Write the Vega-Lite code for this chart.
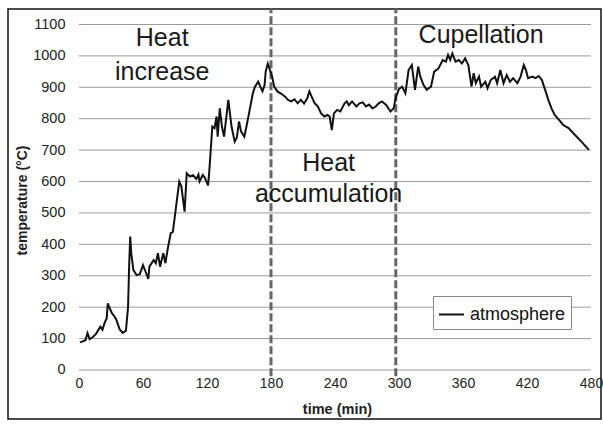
{
  "$schema": "https://vega.github.io/schema/vega-lite/v6.json",
  "width": 593,
  "height": 410,
  "autosize": {"type": "none"},
  "padding": {"left": 8, "top": 9, "right": 2, "bottom": 6},
  "background": "white",
  "config": {
    "view": {"stroke": "#111", "strokeWidth": 1.5},
    "font": "Liberation Sans",
    "axis": {"grid": false, "domain": false, "ticks": false, "labelOverlap": false},
    "axisX": {
      "offset": -49, "format": "d",
      "labelFontSize": 14, "labelColor": "#222", "labelPadding": 6, "labelFont": "Liberation Sans",
      "titleFontSize": 14.5, "titleFontWeight": "bold", "titleColor": "#222",
      "titleFont": "Liberation Sans", "titleX": 329, "titleY": 39, "titleBaseline": "middle"
    },
    "axisY": {
      "offset": -71, "format": "d", "labelOverlap": false,
      "labelFontSize": 14.5, "labelColor": "#222", "labelPadding": 14, "labelFont": "Liberation Sans",
      "titleFontSize": 14, "titleFontWeight": "bold", "titleColor": "#222",
      "titleFont": "Liberation Sans", "titleX": -57, "titleY": 191, "titleBaseline": "middle", "titleAngle": -90
    },
    "legend": {
      "orient": "none",
      "legendX": 425,
      "legendY": 287,
      "strokeColor": "#888",
      "fillColor": "white",
      "padding": 5,
      "labelFontSize": 18,
      "labelColor": "#111",
      "labelFont": "Liberation Sans",
      "labelOffset": 5,
      "symbolType": "stroke",
      "symbolStrokeWidth": 2,
      "symbolSize": 625
    }
  },
  "datasets": {
    "temp": [
      {"t": 1, "T": 88}, {"t": 4, "T": 92}, {"t": 6, "T": 95}, {"t": 8, "T": 118}, {"t": 10, "T": 98},
      {"t": 13, "T": 105}, {"t": 16, "T": 115}, {"t": 20, "T": 138}, {"t": 22, "T": 128}, {"t": 24, "T": 150},
      {"t": 26, "T": 165}, {"t": 27, "T": 212}, {"t": 29, "T": 195}, {"t": 31, "T": 180}, {"t": 33, "T": 172},
      {"t": 35, "T": 160}, {"t": 38, "T": 130}, {"t": 41, "T": 118}, {"t": 44, "T": 125}, {"t": 46, "T": 200},
      {"t": 47, "T": 330}, {"t": 48, "T": 425}, {"t": 49, "T": 372}, {"t": 51, "T": 318}, {"t": 54, "T": 302},
      {"t": 57, "T": 305}, {"t": 60, "T": 334}, {"t": 63, "T": 308}, {"t": 65, "T": 290}, {"t": 66, "T": 329},
      {"t": 70, "T": 350}, {"t": 72, "T": 340}, {"t": 74, "T": 372}, {"t": 76, "T": 329}, {"t": 79, "T": 372},
      {"t": 81, "T": 340}, {"t": 83, "T": 382}, {"t": 86, "T": 436}, {"t": 88, "T": 440}, {"t": 91, "T": 520},
      {"t": 94, "T": 600}, {"t": 96, "T": 584}, {"t": 99, "T": 504}, {"t": 101, "T": 626}, {"t": 104, "T": 616},
      {"t": 107, "T": 620}, {"t": 110, "T": 608}, {"t": 112, "T": 622}, {"t": 113, "T": 600}, {"t": 116, "T": 621},
      {"t": 118, "T": 612}, {"t": 121, "T": 588}, {"t": 122, "T": 626}, {"t": 125, "T": 775}, {"t": 127, "T": 770},
      {"t": 129, "T": 807}, {"t": 130, "T": 743}, {"t": 132, "T": 833}, {"t": 134, "T": 775}, {"t": 136, "T": 743},
      {"t": 140, "T": 860}, {"t": 143, "T": 775}, {"t": 146, "T": 727}, {"t": 148, "T": 740}, {"t": 150, "T": 791},
      {"t": 152, "T": 759}, {"t": 155, "T": 743}, {"t": 157, "T": 775}, {"t": 160, "T": 828}, {"t": 163, "T": 881},
      {"t": 165, "T": 902}, {"t": 168, "T": 918}, {"t": 170, "T": 902}, {"t": 172, "T": 887}, {"t": 174, "T": 907},
      {"t": 175, "T": 950}, {"t": 177, "T": 975}, {"t": 179, "T": 955}, {"t": 181, "T": 935}, {"t": 183, "T": 902},
      {"t": 186, "T": 887}, {"t": 189, "T": 881}, {"t": 193, "T": 871}, {"t": 196, "T": 860}, {"t": 199, "T": 855},
      {"t": 202, "T": 862}, {"t": 205, "T": 849}, {"t": 208, "T": 860}, {"t": 211, "T": 848}, {"t": 214, "T": 865},
      {"t": 216, "T": 887}, {"t": 218, "T": 871}, {"t": 221, "T": 849}, {"t": 224, "T": 839}, {"t": 227, "T": 817},
      {"t": 230, "T": 807}, {"t": 233, "T": 812}, {"t": 235, "T": 807}, {"t": 237, "T": 764}, {"t": 239, "T": 817},
      {"t": 242, "T": 828}, {"t": 245, "T": 823}, {"t": 249, "T": 849}, {"t": 251, "T": 855}, {"t": 253, "T": 843},
      {"t": 256, "T": 855}, {"t": 260, "T": 839}, {"t": 263, "T": 849}, {"t": 266, "T": 852}, {"t": 269, "T": 839},
      {"t": 272, "T": 845}, {"t": 275, "T": 833}, {"t": 278, "T": 838}, {"t": 281, "T": 849}, {"t": 284, "T": 855},
      {"t": 288, "T": 844}, {"t": 292, "T": 823}, {"t": 295, "T": 833}, {"t": 297, "T": 868}, {"t": 300, "T": 895},
      {"t": 303, "T": 902}, {"t": 306, "T": 881}, {"t": 309, "T": 955}, {"t": 312, "T": 971}, {"t": 315, "T": 892},
      {"t": 318, "T": 966}, {"t": 320, "T": 934}, {"t": 323, "T": 907}, {"t": 326, "T": 892}, {"t": 330, "T": 902},
      {"t": 333, "T": 950}, {"t": 337, "T": 960}, {"t": 341, "T": 987}, {"t": 344, "T": 982}, {"t": 346, "T": 1003},
      {"t": 348, "T": 987}, {"t": 350, "T": 1008}, {"t": 353, "T": 982}, {"t": 356, "T": 987}, {"t": 359, "T": 976},
      {"t": 362, "T": 992}, {"t": 365, "T": 971}, {"t": 368, "T": 902}, {"t": 370, "T": 945}, {"t": 372, "T": 913},
      {"t": 375, "T": 934}, {"t": 377, "T": 902}, {"t": 381, "T": 918}, {"t": 383, "T": 897}, {"t": 386, "T": 923},
      {"t": 390, "T": 934}, {"t": 392, "T": 913}, {"t": 395, "T": 955}, {"t": 398, "T": 913}, {"t": 401, "T": 939},
      {"t": 404, "T": 918}, {"t": 407, "T": 929}, {"t": 411, "T": 913}, {"t": 414, "T": 934}, {"t": 417, "T": 971},
      {"t": 419, "T": 955}, {"t": 421, "T": 929}, {"t": 425, "T": 934}, {"t": 428, "T": 929}, {"t": 431, "T": 936},
      {"t": 434, "T": 923}, {"t": 437, "T": 892}, {"t": 440, "T": 860}, {"t": 443, "T": 833}, {"t": 446, "T": 812},
      {"t": 450, "T": 796}, {"t": 454, "T": 780}, {"t": 459, "T": 770}, {"t": 465, "T": 748}, {"t": 471, "T": 727},
      {"t": 478, "T": 701}
    ],
    "grid": [
      {"g": 0}, {"g": 100}, {"g": 200}, {"g": 300}, {"g": 400}, {"g": 500},
      {"g": 600}, {"g": 700}, {"g": 800}, {"g": 900}, {"g": 1000}, {"g": 1100}
    ],
    "phases": [{"p": 180}, {"p": 297}],
    "labels": [
      {"label": "Heat", "t": 78, "T": 1057},
      {"label": "increase", "t": 78, "T": 949},
      {"label": "Heat", "t": 234, "T": 659},
      {"label": "accumulation", "t": 234, "T": 560},
      {"label": "Cupellation", "t": 377, "T": 1067}
    ]
  },
  "layer": [
    {
      "data": {"name": "grid"},
      "mark": {"type": "rule", "color": "#9a9a9a", "strokeWidth": 1},
      "encoding": {
        "x": {
          "datum": 0, "type": "quantitative",
          "scale": {"domain": [-66.56, 489.38], "nice": false, "zero": false},
          "axis": {"values": [0, 60, 120, 180, 240, 300, 360, 420, 480], "title": "time (min)", "labelOverlap": false}
        },
        "x2": {"datum": 480},
        "y": {
          "field": "g", "type": "quantitative",
          "scale": {"domain": [-156, 1149.3], "nice": false, "zero": false},
          "axis": {"values": [0, 100, 200, 300, 400, 500, 600, 700, 800, 900, 1000, 1100], "title": "temperature (°C)", "labelOverlap": false, "labelSeparation": 0}
        }
      }
    },
    {
      "data": {"name": "phases"},
      "mark": {"type": "rule", "color": "#666", "strokeWidth": 3, "strokeDash": [8, 3]},
      "encoding": {
        "x": {"field": "p", "type": "quantitative", "axis": {"values": [0, 60, 120, 180, 240, 300, 360, 420, 480], "title": "time (min)", "labelOverlap": false}},
        "y": {"datum": -20, "type": "quantitative", "axis": {"values": [0, 100, 200, 300, 400, 500, 600, 700, 800, 900, 1000, 1100], "title": "temperature (°C)", "labelOverlap": false, "labelSeparation": 0}},
        "y2": {"datum": 1150}
      }
    },
    {
      "data": {"name": "labels"},
      "mark": {"type": "text", "fontSize": 25, "font": "Liberation Sans", "color": "#1a1a1a", "align": "center", "baseline": "middle"},
      "encoding": {
        "x": {"field": "t", "type": "quantitative", "axis": {"values": [0, 60, 120, 180, 240, 300, 360, 420, 480], "title": "time (min)", "labelOverlap": false}},
        "y": {"field": "T", "type": "quantitative", "axis": {"values": [0, 100, 200, 300, 400, 500, 600, 700, 800, 900, 1000, 1100], "title": "temperature (°C)", "labelOverlap": false, "labelSeparation": 0}},
        "text": {"field": "label"}
      }
    },
    {
      "data": {"name": "temp"},
      "mark": {"type": "line", "strokeWidth": 2, "interpolate": "linear"},
      "encoding": {
        "x": {"field": "t", "type": "quantitative", "axis": {"values": [0, 60, 120, 180, 240, 300, 360, 420, 480], "title": "time (min)", "labelOverlap": false}},
        "y": {"field": "T", "type": "quantitative", "axis": {"values": [0, 100, 200, 300, 400, 500, 600, 700, 800, 900, 1000, 1100], "title": "temperature (°C)", "labelOverlap": false, "labelSeparation": 0}},
        "color": {
          "datum": "atmosphere",
          "scale": {"range": ["#111"]},
          "legend": {"title": null}
        }
      }
    }
  ]
}
